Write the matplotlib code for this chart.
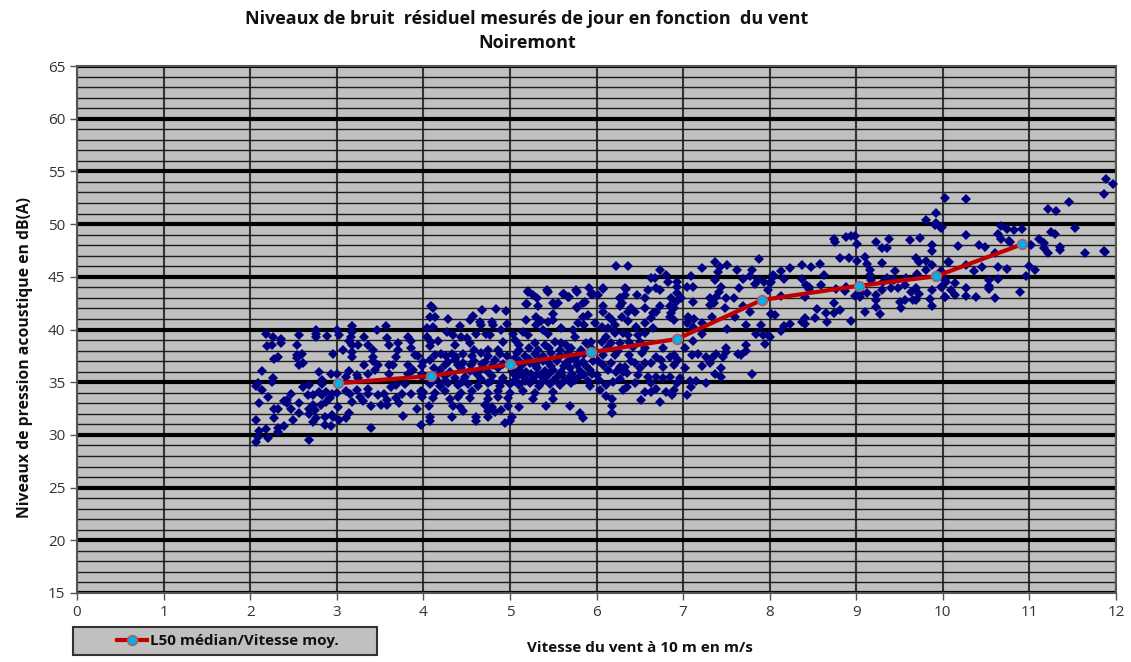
import matplotlib
matplotlib.use('Agg')
import matplotlib.pyplot as plt
from matplotlib.patches import Rectangle

# (vitesse du vent, niveau), par tranche de vitesse
mesures_2_4 = [
    (2.18,39.6),(2.26,39.3),(2.36,39.1),(2.36,38.7),(2.25,38.5),(2.2,38.4),(2.54,38.5),(2.56,39.5),(2.76,40.0),(2.76,39.6),
    (2.76,39.3),(2.89,39.4),(3.0,40.0),(3.03,39.5),(3.18,40.3),(3.18,39.8),(3.16,39.3),(3.14,38.9),(3.18,38.5),(3.25,38.5),
    (3.32,39.3),(3.47,40.0),(3.57,40.3),(3.58,39.2),(3.6,38.5),(3.71,38.7),(3.82,39.3),(3.86,38.9),(3.86,38.2),(3.71,38.1),
    (3.69,37.4),(3.9,37.6),(3.94,37.5),(3.07,38.1),(3.18,37.9),(3.18,37.4),(2.96,37.7),(3.42,38.1),(3.36,38.5),(3.42,37.4),
    (3.42,37.0),(3.32,36.6),(3.48,36.6),(3.6,36.6),(3.65,36.6),(3.44,36.2),(3.6,35.8),(3.82,36.6),(3.88,36.2),(3.98,36.5),
    (3.82,35.8),(3.98,35.8),(2.32,37.4),(2.28,37.2),(2.54,37.6),(2.6,37.7),(2.54,37.3),(2.56,36.6),(2.61,36.8),(2.14,36.1),
    (2.26,35.4),(2.25,35.05),(2.79,36.0),(2.93,35.8),(3.0,35.75),(3.14,36.1),(3.11,35.5),(3.23,35.7),(3.25,35.4),(3.36,35.75),
    (2.83,35.2),(2.83,34.85),(2.09,34.9),(2.07,34.6),(2.14,34.3),(2.21,33.55),(2.1,33.05),(2.61,34.5),(2.68,34.7),(2.47,33.9),
    (2.67,33.8),(2.72,33.8),(2.79,34.1),(2.83,33.8),(2.88,34.1),(2.94,33.9),(3.0,34.0),(3.11,34.2),(3.15,33.9),(3.23,34.25),
    (3.27,33.6),(3.3,33.2),(3.36,34.4),(3.36,33.9),(3.48,33.8),(3.54,33.9),(3.63,34.5),(3.68,34.7),(3.79,34.8),(3.75,33.9),
    (3.69,33.5),(3.72,33.0),(3.86,33.9),(3.97,34.2),(3.98,33.55),(3.58,33.3),(3.58,32.8),(3.51,32.8),(3.39,32.7),(3.18,33.1),
    (3.93,32.5),(3.76,31.8),(3.97,30.9),(3.39,30.7),(3.14,32.1),(3.11,31.6),(3.03,31.4),(3.02,32.6),(2.92,33.5),(2.88,33.1),
    (2.82,32.8),(2.75,32.4),(2.68,32.5),(2.73,32.8),(2.68,31.95),(2.56,32.1),(2.47,32.5),(2.56,33.0),(2.42,33.3),(2.39,33.2),
    (2.43,33.0),(2.32,32.5),(2.27,32.5),(2.28,31.6),(2.07,31.4),(2.5,31.4),(2.39,30.85),(2.32,30.7),(2.32,30.3),(2.18,30.6),
    (2.1,30.4),(2.09,29.8),(2.07,29.3),(2.21,29.7),(2.68,29.5),(2.73,31.25),(2.86,31.7),(2.94,31.9),(2.96,31.7),(2.86,30.95),
    (2.93,30.8),(2.76,31.6),
]

mesures_4_6 = [
    (4.09,42.26),(4.11,42.0),(4.08,41.2),(4.13,41.15),(4.29,41.0),(4.04,40.1),(4.11,40.2),(4.27,39.8),(4.34,39.5),(4.04,39.3),
    (4.17,38.9),(4.09,38.85),(4.08,38.4),(4.36,38.5),(4.42,40.3),(4.54,40.9),(4.57,41.3),(4.68,41.85),(4.84,41.95),(4.95,41.8),
    (4.66,40.75),(4.67,40.4),(4.79,40.75),(4.8,40.4),(4.97,40.5),(4.9,40.0),(4.61,39.6),(4.72,39.6),(4.77,39.5),(4.44,39.3),
    (4.5,39.2),(4.54,38.7),(4.58,38.05),(4.75,38.05),(4.86,38.05),(4.92,38.85),(5.04,39.6),(5.15,39.8),(5.21,39.5),(5.06,39.0),
    (5.11,38.5),(5.19,42.4),(5.33,42.2),(5.19,40.9),(5.3,41.2),(5.3,40.4),(5.5,41.5),(5.5,40.9),(5.36,40.8),(5.44,40.75),
    (5.59,40.1),(5.52,42.3),(5.56,42.55),(5.77,42.0),(5.84,42.5),(5.9,41.4),(5.84,41.2),(5.79,40.6),(5.86,40.4),(5.98,40.6),
    (5.73,39.95),(5.75,39.3),(5.38,39.95),(5.44,39.6),(5.29,38.7),(5.4,38.5),(5.52,38.85),(5.59,38.7),(5.65,38.5),(5.88,38.7),
    (5.94,38.85),(5.21,43.6),(5.27,43.3),(5.31,42.95),(5.44,43.6),(5.61,43.4),(5.67,43.1),(5.77,43.6),(5.94,43.4),(5.21,43.68),
    (5.43,43.74),(5.62,43.4),(5.68,43.1),(5.76,43.74),(5.91,43.9),(5.96,43.4),(5.2,42.4),(5.5,42.5),(5.77,42.1),(5.87,42.6),
    # zone dense autour de la mediane
    (4.13,37.6),(4.2,37.7),(4.26,37.5),(4.33,37.7),(4.38,37.4),(4.46,37.7),(4.56,37.5),(4.67,37.8),(4.75,37.5),(4.88,37.7),
    (4.97,37.5),(5.08,37.8),(5.17,37.5),(5.29,37.7),(5.38,37.5),(5.48,37.8),(5.58,37.6),(5.67,37.8),(5.77,37.5),(5.86,37.7),
    (4.0,36.9),(4.08,37.1),(4.29,36.9),(4.36,37.1),(4.46,36.8),(4.59,37.0),(4.71,36.9),(4.83,37.1),(5.11,37.0),(5.23,36.8),
    (5.34,37.1),(5.44,36.9),(5.54,37.0),(5.65,36.8),(5.75,37.1),(5.84,36.9),(5.96,37.0),
    (4.19,36.2),(4.31,36.0),(4.44,36.3),(4.54,36.1),(4.65,36.2),(4.75,36.0),(4.86,36.3),(5.02,36.1),(5.11,36.2),(5.19,36.0),
    (5.31,36.3),(5.4,36.1),(5.5,36.2),(5.59,36.0),(5.69,36.3),(5.81,36.1),(5.92,36.2),
    (3.98,35.5),(4.15,35.3),(4.25,35.6),(4.36,35.4),(4.48,35.5),(4.67,35.3),(4.79,35.6),(4.92,35.4),(5.08,35.5),(5.19,35.3),
    (5.29,35.6),(5.4,35.4),(5.54,35.5),(5.67,35.3),(5.81,35.6),
    (4.08,34.8),(4.19,34.6),(4.29,34.9),(4.4,34.7),(4.52,34.8),(4.63,34.6),(4.75,34.9),(4.88,34.6),(5.0,34.8),(5.11,34.7),
    (5.23,34.9),(5.34,34.6),(5.46,34.8),(5.58,34.7),(5.71,34.9),(5.92,34.6),
    (4.0,34.1),(4.13,34.0),(4.25,34.2),(4.44,34.0),(4.56,34.2),(4.75,34.0),(4.86,34.2),(5.0,34.0),(5.15,34.2),(5.29,34.0),
    (5.5,34.1),(4.11,33.5),(4.31,33.4),(4.4,33.6),(4.54,33.5),(4.75,33.4),(4.86,33.6),(4.98,33.5),(5.27,33.4),(5.5,33.4),
    (4.06,32.7),(4.34,32.7),(4.42,32.6),(4.71,32.8),(4.79,32.6),(4.98,32.7),(5.11,32.6),(5.42,32.7),(5.69,32.7),
    (4.46,32.3),(4.75,32.3),(4.83,32.2),(4.9,32.4),(4.08,31.7),(4.33,31.7),(4.61,31.7),(4.75,31.7),(5.02,31.7),
    (5.81,32.04),(5.84,31.57),(4.08,31.35),(4.61,31.35),(4.94,31.15),(5.0,31.35),(3.98,33.9),
    # le coeur du nuage, presque plein sur le graphique
    (5.05,37.2),(5.14,36.6),(5.22,37.2),(5.3,36.5),(5.38,37.0),(5.47,36.5),(5.55,37.3),(5.62,36.5),(5.7,37.2),(5.78,36.6),
    (5.88,36.5),(5.05,35.8),(5.14,35.7),(5.24,35.8),(5.35,35.7),(5.45,35.8),(5.6,35.7),(5.72,35.8),(5.85,35.7),(5.95,35.8),
    (5.05,35.1),(5.17,35.1),(5.27,35.2),(5.37,35.0),(5.5,35.1),(5.62,35.1),(5.75,35.2),(5.9,35.1),(5.1,38.1),(5.22,38.2),
    (5.33,38.1),(5.45,38.2),(5.58,38.1),(5.7,38.2),(5.82,38.1),(5.94,38.2),(4.55,36.6),(4.68,36.7),(4.8,36.6),(4.92,36.7),
    (4.4,36.6),(4.25,36.6),(4.12,36.3),(4.62,35.8),(4.78,35.1),(4.45,35.0),(4.25,35.1),(4.1,35.0),(4.9,35.0),
]

mesures_6_8 = [
    (6.23,46.03),(6.36,46.03),(6.73,45.65),(6.67,44.9),(6.63,44.85),(6.8,45.2),(6.83,44.5),(6.93,44.5),(6.93,44.0),(6.93,43.45),
    (7.09,45.1),(7.05,44.0),(7.11,44.0),(7.22,45.8),(7.37,46.4),(7.43,45.96),(7.51,46.1),(7.4,45.5),(7.62,45.65),(7.8,45.65),
    (7.77,45.1),(7.88,46.7),(7.37,44.7),(7.69,44.8),(8.04,45.17),(7.86,44.7),(7.83,44.3),(7.94,44.5),(8.0,44.4),(7.98,43.75),
    (7.65,43.9),(7.44,44.07),(7.41,43.6),(7.38,43.1),(7.31,43.0),(7.31,42.3),(7.36,42.5),(7.5,43.0),(7.59,43.0),(7.11,42.64),
    (7.48,42.0),(7.69,42.2),(7.77,41.7),(7.6,41.2),(7.33,41.2),(8.02,41.5),(7.9,40.4),(7.73,40.4),(7.51,40.05),(7.22,39.6),
    (7.06,41.2),(7.08,41.0),(7.13,41.0),(7.05,40.6),(7.11,40.27),(7.22,40.6),(7.84,39.57),(7.92,39.5),(7.98,39.5),(7.95,38.6),
    (7.73,38.5),(7.73,38.0),(7.5,38.2),(7.5,37.9),(7.63,37.64),(7.67,37.6),(7.11,38.9),(7.02,38.2),(7.1,37.6),(7.17,37.64),
    (7.27,37.4),(7.33,37.26),(7.38,37.7),(7.46,37.4),(7.31,36.8),(7.22,36.56),(7.44,36.3),(7.37,35.8),(7.44,35.5),(7.8,35.77),
    (7.02,36.3),(6.97,35.36),(7.08,35.1),(7.15,35.1),(7.26,34.9),(7.09,34.57),(7.05,33.8),(6.93,34.9),(6.9,34.25),(6.87,33.8),
    (6.8,34.03),(6.73,33.08),(6.51,33.3),(6.56,34.03),(6.63,34.03),(6.69,34.4),(6.63,34.9),(6.6,35.5),(6.69,35.5),(6.77,35.36),
    (6.85,35.5),(6.35,34.57),(6.31,34.25),(6.44,34.9),(6.19,35.05),(6.11,34.73),(6.04,34.25),(6.11,33.7),(6.18,33.4),(6.18,32.77),
    (6.18,32.04),(6.27,36.47),(6.33,36.47),(6.31,36.0),(6.35,35.85),(6.48,35.7),(6.44,36.8),(6.56,36.8),(6.63,36.8),(6.75,37.1),
    (6.69,37.36),(6.85,37.4),(6.9,37.6),(6.94,37.1),(6.9,36.6),(6.77,36.47),(6.52,37.74),(6.56,38.2),(6.38,37.6),(6.21,37.6),
    (6.08,37.6),(6.08,36.6),(6.17,36.8),(6.0,35.7),(6.08,43.9),(6.33,43.9),(6.33,43.3),(6.47,43.3),(6.56,43.0),(6.59,43.75),
    (6.69,43.9),(6.73,43.75),(6.27,42.96),(6.29,42.5),(6.27,42.2),(6.08,42.2),(6.08,41.7),(6.4,42.0),(6.44,41.7),(6.36,41.7),
    (6.56,42.0),(6.73,42.2),(6.65,41.53),(6.69,41.7),(6.63,41.05),(6.3,41.2),(6.15,41.2),(6.18,40.9),(6.36,40.83),(6.56,40.6),
    (6.46,40.27),(6.65,40.1),(6.21,40.43),(6.06,40.27),(6.13,40.1),(6.86,42.96),(6.92,42.64),(6.98,42.96),(6.85,42.2),(6.9,42.0),
    (6.86,41.53),(6.85,41.2),(6.9,40.9),(6.02,43.3),(6.11,39.3),(6.21,39.63),(6.31,39.63),(6.36,39.5),(6.48,39.5),(6.56,39.63),
    (6.17,38.68),(6.27,38.68),(6.38,38.84),(6.5,38.84),(6.77,38.2),(6.06,38.84),(6.07,43.84),(6.34,43.84),(6.27,42.95),
    (6.12,38.2),(6.25,38.0),(6.42,38.3),(6.02,37.0),(6.13,36.2),(6.22,36.0),(6.4,37.0),(6.5,36.3),(6.03,35.2),(6.27,35.3),
]

mesures_8_10 = [
    (8.74,48.58),(8.76,48.33),(8.88,48.8),(8.94,48.9),(8.99,48.9),(9.01,48.07),(9.23,48.33),(9.38,48.58),(9.3,47.7),(9.35,47.7),
    (9.62,48.5),(9.74,48.7),(9.87,48.0),(9.87,47.44),(9.98,49.66),(9.91,49.9),(8.81,46.8),(8.92,46.8),(9.01,46.5),(9.1,46.9),
    (9.12,46.2),(9.3,46.3),(9.16,45.64),(9.16,45.16),(9.17,44.7),(9.45,45.57),(9.69,46.8),(9.73,46.43),(9.81,46.5),(10.06,46.43),
    (9.88,46.1),(9.81,45.64),(9.7,45.3),(9.98,45.57),(8.37,46.1),(8.48,45.9),(8.58,46.2),(8.24,45.8),(8.13,45.54),(8.05,45.1),
    (8.17,44.75),(8.37,44.75),(8.63,45.16),(8.02,44.53),(8.42,44.2),(8.45,44.06),(8.46,43.83),(8.59,44.2),(8.88,44.06),(8.77,43.83),
    (8.87,43.68),(8.13,43.2),(8.41,43.1),(9.06,43.42),(9.12,43.5),(8.99,43.17),(9.04,43.1),(9.23,43.27),(9.23,42.8),(9.3,43.74),
    (9.31,44.53),(9.35,44.85),(9.44,44.7),(9.4,43.9),(9.48,43.9),(9.58,44.85),(9.56,44.2),(9.69,43.9),(9.63,43.58),(9.73,43.36),
    (9.65,42.8),(9.56,42.8),(9.5,42.57),(9.52,42.0),(9.69,42.8),(9.85,42.9),(9.88,42.2),(10.02,43.1),(9.98,44.06),(10.04,44.53),
    (9.87,43.74),(8.74,42.47),(8.55,41.9),(8.65,41.6),(8.74,41.6),(8.81,41.84),(8.52,41.1),(8.41,41.05),(8.37,40.73),(8.41,40.5),
    (8.66,40.67),(8.94,40.8),(9.1,41.7),(9.23,42.1),(9.28,41.5),(8.24,40.5),(8.17,40.3),(8.13,39.85),(8.02,41.5),(8.06,41.37),
    (8.0,39.3),
]

mesures_10_12 = [
    (10.03,52.5),(10.27,52.4),(9.92,51.08),(9.81,50.4),(9.92,50.07),(9.99,49.7),(10.27,49.0),(10.17,47.9),(10.07,46.4),(10.27,46.1),
    (10.36,45.54),(10.45,45.95),(10.42,48.0),(10.49,47.8),(10.6,47.3),(10.67,49.8),(10.64,49.05),(10.67,48.55),(10.74,49.5),(10.82,49.4),
    (10.92,49.5),(10.76,48.4),(10.78,48.3),(10.64,45.9),(10.74,45.76),(10.64,44.75),(10.53,44.7),(10.53,44.1),(10.53,43.8),(10.6,42.95),
    (10.89,43.6),(10.38,43.04),(10.27,43.9),(10.27,43.2),(10.14,44.4),(10.1,43.74),(10.14,43.26),(10.03,43.04),(9.99,44.05),(10.03,44.7),
    (11.0,46.0),(11.07,45.64),(10.96,45.07),(11.02,48.0),(11.11,48.55),(11.17,48.17),(11.17,47.7),(11.21,47.3),(11.25,49.28),(11.29,49.02),
    (11.53,49.6),(11.21,51.4),(11.31,51.27),(11.46,52.06),(11.35,47.8),(11.35,47.5),(11.64,47.3),(11.86,47.47),(11.87,47.35),(11.86,52.85),
    (11.88,54.25),(11.97,53.77),
]

vent_moyen = [3.02, 4.09, 5.0, 5.94, 6.93, 7.91, 9.03, 9.92, 10.92]
l50_median = [34.9, 35.6, 36.7, 37.85, 39.1, 42.8, 44.15, 45.05, 48.1]

mesures = mesures_2_4 + mesures_4_6 + mesures_6_8 + mesures_8_10 + mesures_10_12
vent = [m[0] for m in mesures]
bruit = [m[1] for m in mesures]

plt.rcParams['font.family'] = ['Open Sans', 'DejaVu Sans']

L, H = 1131, 662
fig = plt.figure(figsize=(L / 100, H / 100), dpi=100)
ax = fig.add_axes([77 / L, 1 - 593 / H, (1116 - 77) / L, (593 - 66) / H])
ax.set_facecolor('#c0c0c0')

ax.set_xlim(0, 12)
ax.set_ylim(15, 65)
ax.set_xticks(range(0, 13))
ax.set_yticks(range(15, 66, 5))
ax.set_yticks(range(15, 66), minor=True)
ax.set_axisbelow(True)
ax.grid(True, which='minor', axis='y', color='#1c1c1c', lw=1.0, zorder=1)
ax.grid(True, which='major', axis='y', color='black', lw=3, zorder=1)
ax.grid(True, which='major', axis='x', color='#333333', lw=1.5, zorder=1)
ax.tick_params(axis='both', which='major', direction='out', length=5, width=1, color='#555555',
               labelcolor='#333333', labelsize=11)
ax.tick_params(axis='y', which='minor', length=0)
for side in ax.spines:
    ax.spines[side].set_color('#555555')
    ax.spines[side].set_linewidth(1.5)

ax.plot(vent, bruit, 'D', color='#000080', ms=5.6, mew=0, ls='none', zorder=3, clip_on=False)
ligne, = ax.plot(vent_moyen, l50_median, '-o', color='#c00000', lw=3, ms=7.2, mfc='#00b0e8',
                 mec='#c85050', mew=1, zorder=4, label='L50 médian/Vitesse moy.')

fig.text(527 / L, 1 - 19 / H, 'Niveaux de bruit  résiduel mesurés de jour en fonction  du vent',
         ha='center', va='center', fontsize=13, fontweight='bold', color='#111111')
fig.text(527 / L, 1 - 43 / H, 'Noiremont', ha='center', va='center', fontsize=13, fontweight='bold', color='#111111')
fig.text(25 / L, 1 - 358 / H, 'Niveaux de pression acoustique en dB(A)', rotation=90, ha='center', va='center',
         fontsize=11.3, fontweight='bold', color='#111111')
fig.text(640 / L, 1 - 648 / H, 'Vitesse du vent à 10 m en m/s', ha='center', va='center',
         fontsize=11, fontweight='bold', color='#111111')

# cadre de la legende
fig.add_artist(Rectangle((73 / L, 1 - 655 / H), 304 / L, 28 / H, transform=fig.transFigure,
                         facecolor='#c0c0c0', edgecolor='#333333', lw=1.5))
leg = fig.legend(handles=[ligne], loc='center', bbox_to_anchor=(228 / L, 1 - 641 / H), frameon=False,
                 prop={'size': 11, 'weight': 'bold'}, borderpad=0, handlelength=2.0, handletextpad=0.2,
                 borderaxespad=0, labelcolor='#111111')

fig.savefig('out.png', dpi=100)
